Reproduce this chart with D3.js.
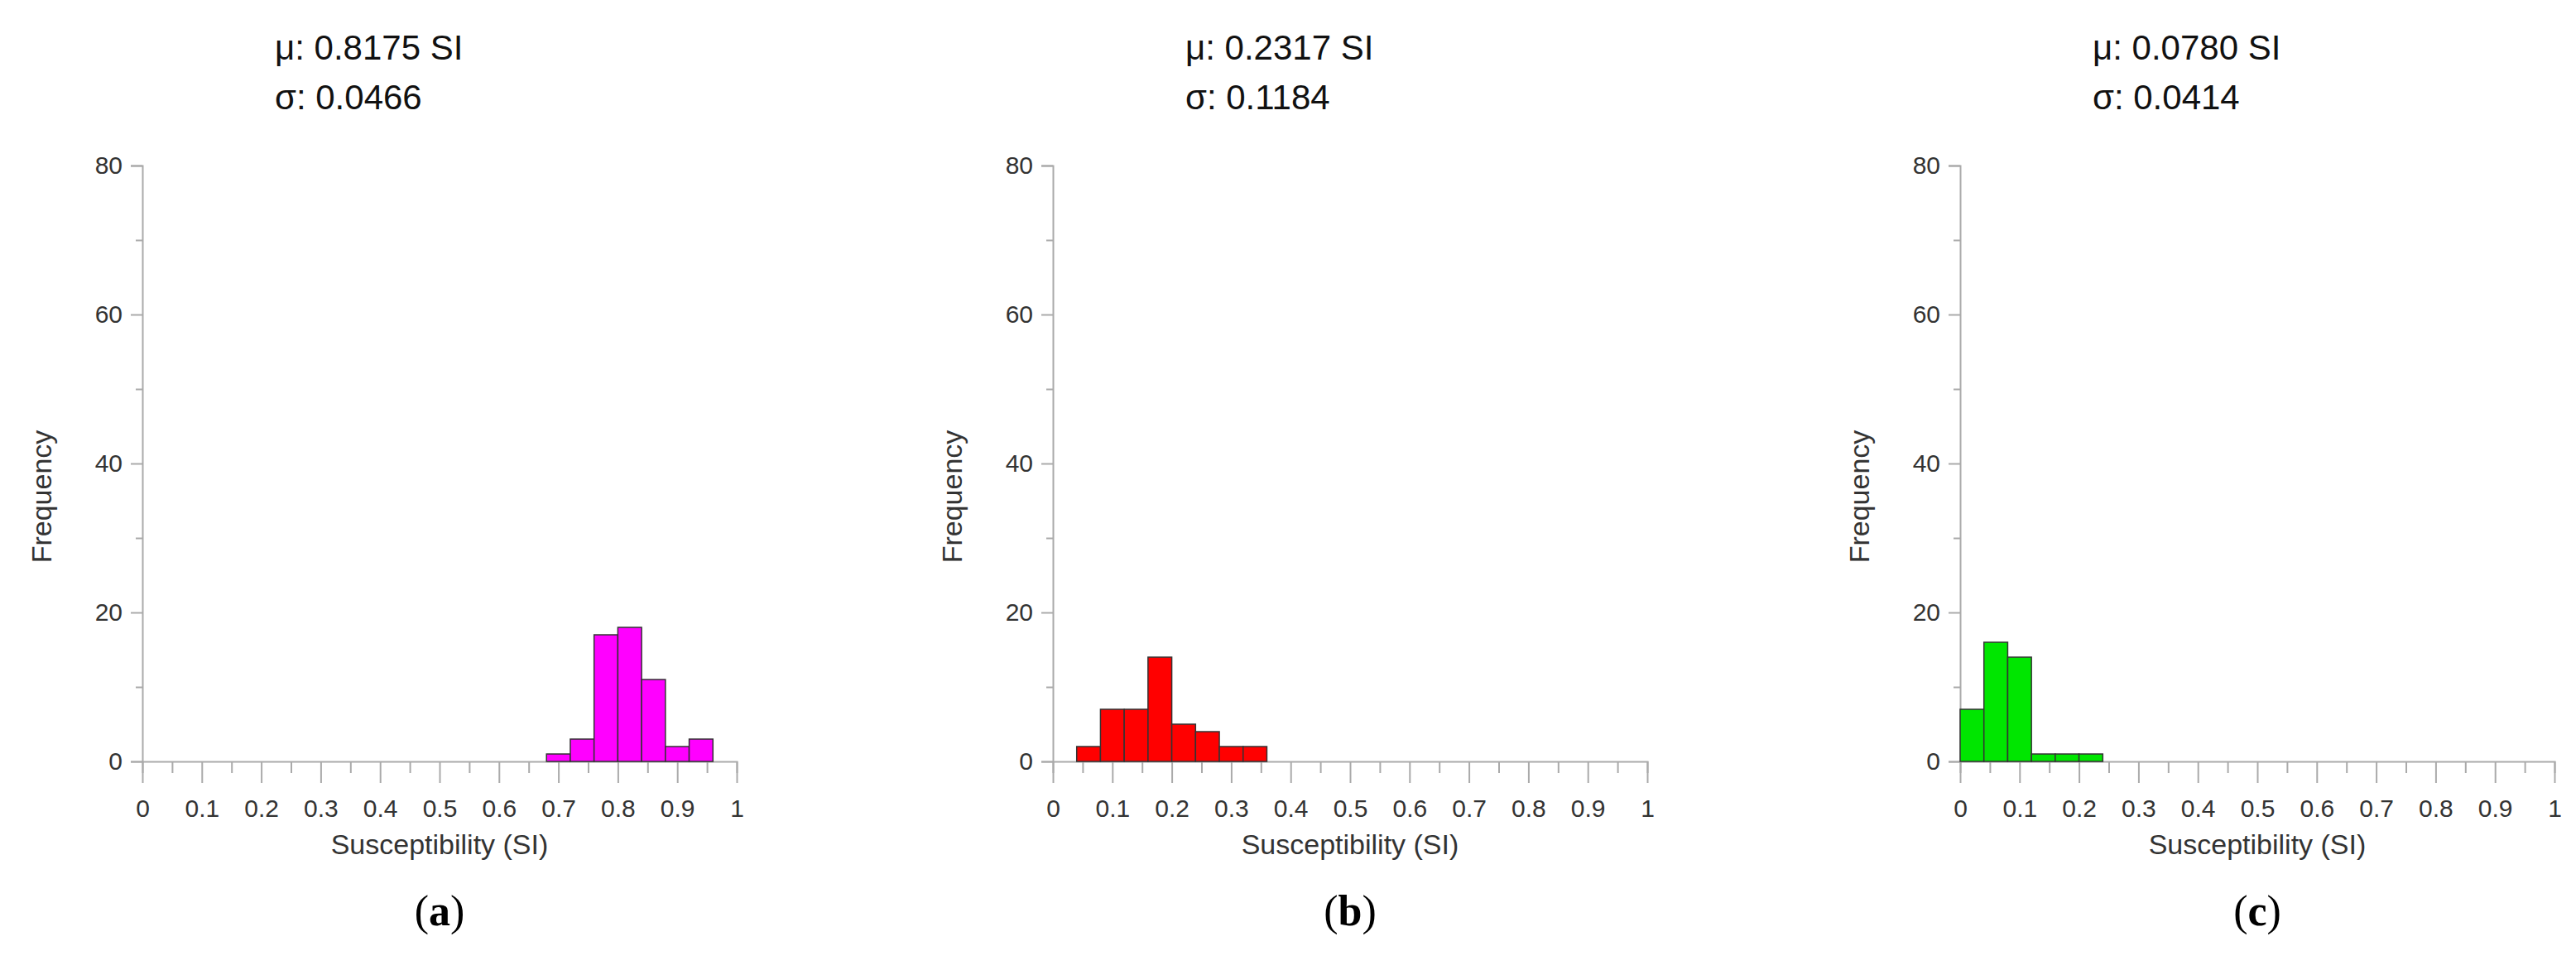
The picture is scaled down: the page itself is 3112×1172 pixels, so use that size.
<!DOCTYPE html>
<html><head><meta charset="utf-8">
<script src="https://cdn.jsdelivr.net/npm/d3@7"></script>
<style>body{margin:0;background:#fff}</style></head>
<body><svg id="c" width="3112" height="1172"></svg>
<script>
const binWidth = 0.04;
const panelLabels = ["a","b","c"];
const muLabels = ["μ: 0.8175 SI","μ: 0.2317 SI","μ: 0.0780 SI"];
const sigmaLabels = ["σ: 0.0466","σ: 0.1184","σ: 0.0414"];
const binStarts = [0.68, 0.04, 0.0];
const countsA = [1,3,17,18,11,2,3];
const countsB = [2,7,7,14,5,4,2,2];
const countsC = [7,16,14,1,1,1];
const colors = ["#ff00ff","#ff0000","#00e600"];
const xTicks = [0,0.1,0.2,0.3,0.4,0.5,0.6,0.7,0.8,0.9,1];
const yTicks = [0,20,40,60,80];
const allCounts = [countsA,countsB,countsC];

(function(){
const svg = d3.select("#c");
const lefts = [172, 1272, 2368];
const W = 718, plotTop = 200, plotBottom = 920;
allCounts.forEach((counts,i)=>{
  const x = d3.scaleLinear().domain([0,1]).range([lefts[i], lefts[i]+W]);
  const y = d3.scaleLinear().domain([0,80]).range([plotBottom, plotTop]);
  const g = svg.append("g");
  const xa = g.append("g").attr("transform",`translate(0,${plotBottom})`)
    .call(d3.axisBottom(x).tickValues(d3.range(0,1.0001,0.05)).tickSize(14).tickFormat(""));
  xa.selectAll(".tick line").attr("y2",(d,j)=> j%2===0?26:14);
  g.append("g").attr("transform",`translate(0,${plotBottom})`)
    .call(d3.axisBottom(x).tickValues(xTicks).tickSize(0).tickPadding(46).tickFormat(d=>d===0||d===1?d3.format("d")(d):d3.format(".1f")(d)))
    .call(a=>a.select(".domain").remove());
  const ya = g.append("g").attr("transform",`translate(${lefts[i]},0)`)
    .call(d3.axisLeft(y).tickValues(d3.range(0,81,10)).tickSize(14).tickPadding(10).tickFormat(d=>yTicks.includes(d)?d:""));
  ya.selectAll(".tick line").attr("x2",(d)=> d%20===0?-14:-8);
  g.selectAll(".domain").attr("stroke","#aaa").attr("stroke-width",2);
  g.selectAll(".tick line").attr("stroke","#aaa").attr("stroke-width",2);
  g.selectAll(".tick text").attr("fill","#333").style("font-family","Liberation Sans, Arial").style("font-size","30px");
  g.selectAll("rect.bar").data(counts).enter().append("rect").attr("class","bar")
    .attr("x",(d,j)=>x(binStarts[i]+j*binWidth))
    .attr("width",(d,j)=>x(binStarts[i]+(j+1)*binWidth)-x(binStarts[i]+j*binWidth))
    .attr("y",d=>y(d)).attr("height",d=>plotBottom-y(d))
    .attr("fill",colors[i]).attr("stroke","#333").attr("stroke-width",1.5);
  const cx = lefts[i]+W/2;
  g.append("text").attr("x",cx).attr("y",1032).attr("text-anchor","middle")
    .style("font-family","Liberation Sans, Arial").style("font-size","34px").attr("fill","#333").text("Susceptibility (SI)");
  g.append("text").attr("transform",`translate(${lefts[i]-110},${(plotTop+plotBottom)/2+40}) rotate(-90)`).attr("text-anchor","middle")
    .style("font-family","Liberation Sans, Arial").style("font-size","34px").attr("fill","#333").text("Frequency");
  g.append("text").attr("x",lefts[i]+160).attr("y",72)
    .style("font-family","Liberation Sans, Arial").style("font-size","42px").attr("fill","#111").text(muLabels[i]);
  g.append("text").attr("x",lefts[i]+160).attr("y",132)
    .style("font-family","Liberation Sans, Arial").style("font-size","42px").attr("fill","#111").text(sigmaLabels[i]);
  const t = g.append("text").attr("x",cx).attr("y",1118).attr("text-anchor","middle")
    .style("font-family","Liberation Serif, serif").style("font-size","52px").attr("fill","#000");
  t.append("tspan").text("(");
  t.append("tspan").style("font-weight","bold").text(panelLabels[i]);
  t.append("tspan").text(")");
});
})();
</script></body></html>
